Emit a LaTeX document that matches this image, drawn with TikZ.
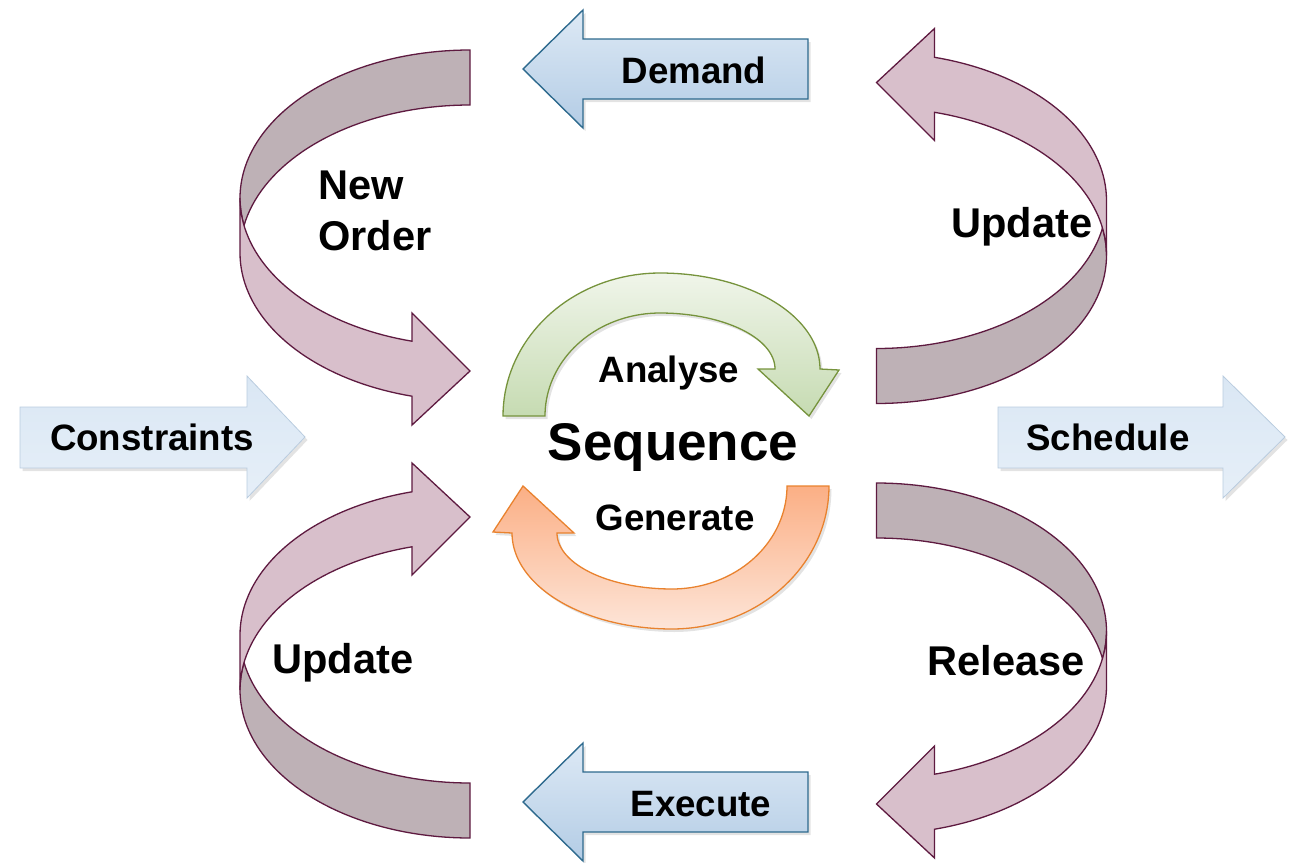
\documentclass[tikz,border=0pt]{standalone}
\usepackage{fontspec}
\setmainfont{Liberation Sans}
\usetikzlibrary{shadows}

\definecolor{plumline}{HTML}{5E1A40}
\definecolor{plumfront}{HTML}{D8BFCB}
\definecolor{plumback}{HTML}{BEB1B6}
\definecolor{blueline}{HTML}{2E6A8E}
\definecolor{bluetop}{HTML}{DDE9F5}
\definecolor{bluebot}{HTML}{B3CCE5}
\definecolor{paletop}{HTML}{DAE7F4}
\definecolor{palebot}{HTML}{E6EFF8}
\definecolor{paleline}{HTML}{B9CCDF}
\definecolor{greenline}{HTML}{76933C}
\definecolor{greentop}{HTML}{F0F5EA}
\definecolor{greenbot}{HTML}{C6DBB2}
\definecolor{orangeline}{HTML}{E9822E}
\definecolor{orangetop}{HTML}{FBAF85}
\definecolor{orangebot}{HTML}{FDE5D8}

\tikzset{
  softshadow/.style={drop shadow={shadow xshift=2.5pt, shadow yshift=-3pt, opacity=0.22}},
  bluearrow/.style={draw=blueline, line width=1.4pt, line join=miter, top color=bluetop, bottom color=bluebot, softshadow},
  palearrow/.style={draw=paleline, line width=0.8pt, top color=paletop, bottom color=palebot, softshadow},
  ribbonback/.style={draw=plumline, line width=1.3pt, fill=plumback},
  ribbonfront/.style={draw=plumline, line width=1.3pt, fill=plumfront, line join=miter},
  greenarrow/.style={draw=greenline, line width=1.3pt, top color=greentop, bottom color=greenbot, softshadow},
  orangearrow/.style={draw=orangeline, line width=1.3pt, top color=orangetop, bottom color=orangebot, softshadow},
  lblS/.style={font=\fontsize{36.7}{44}\selectfont\bfseries, inner sep=0pt, anchor=base},
  lblM/.style={font=\fontsize{41.6}{51}\selectfont\bfseries, inner sep=0pt, anchor=base},
  lblL/.style={font=\fontsize{53}{62}\selectfont\bfseries, inner sep=0pt, anchor=base},
}

% One twisted ribbon arrow: tail at the top right, bending round on the left,
% head at the bottom right pointing right.  The other three are mirror images.
\newcommand\ribbonarrow{%
  \path[ribbonback]
    plot[domain=270:169.29, samples=50] ({470+230*cos(\x)},{198+148*sin(\x)})
    -- plot[domain=190.71:270, samples=40] ({470+230*cos(\x)},{253+148*sin(\x)})
    -- cycle;
  \path[ribbonfront]
    plot[domain=180:104.6, samples=40] ({470+230*cos(\x)},{198+148*sin(\x)})
    -- (412,313) -- (470,371) -- (412,425)
    -- plot[domain=104.6:180, samples=40] ({470+230*cos(\x)},{253+148*sin(\x)})
    -- cycle;
}

\begin{document}
\begin{tikzpicture}[x=1pt, y=-1pt]
\useasboundingbox (0,0) rectangle (1292,862);

% straight block arrows
\path[bluearrow] (808,39) -- (583,39) -- (583,10) -- (523,69) -- (583,128)
  -- (583,99) -- (808,99) -- cycle;
\path[bluearrow] (808,772) -- (583,772) -- (583,743) -- (523,802) -- (583,861)
  -- (583,832) -- (808,832) -- cycle;
\path[palearrow] (20,407) -- (247,407) -- (247,376) -- (305,437) -- (247,498)
  -- (247,468) -- (20,468) -- cycle;
\path[palearrow] (998,407) -- (1223,407) -- (1223,376) -- (1285,437) -- (1223,498)
  -- (1223,468) -- (998,468) -- cycle;

% ribbon arrows in the four corners
\ribbonarrow
\begin{scope}[shift={(1346.5,453.5)}, xscale=-1, yscale=-1]
  \ribbonarrow
\end{scope}
\begin{scope}[shift={(0,888)}, yscale=-1]
  \ribbonarrow
\end{scope}
\begin{scope}[shift={(1346.5,433)}, xscale=-1]
  \ribbonarrow
\end{scope}

% central cycle
\path[greenarrow]
  plot[domain=180:270, samples=40] ({660+157*cos(\x)},{416+143*sin(\x)})
  -- plot[domain=270:360, samples=40] ({660+160*cos(\x)},{369+96*sin(\x)})
  -- (839,370) -- (809,416) -- (758,369)
  -- plot[domain=0:-90, samples=40] ({660+115*cos(\x)},{369+56*sin(\x)})
  -- plot[domain=270:180, samples=40] ({660+115*cos(\x)},{416+103*sin(\x)})
  -- cycle;
\path[orangearrow]
  plot[domain=0:90, samples=40] ({672+157*cos(\x)},{486+143*sin(\x)})
  -- plot[domain=90:180, samples=40] ({672+160*cos(\x)},{533+96*sin(\x)})
  -- (493,532) -- (523,486) -- (574,533)
  -- plot[domain=180:90, samples=40] ({672+115*cos(\x)},{533+56*sin(\x)})
  -- plot[domain=90:0, samples=40] ({672+115*cos(\x)},{486+103*sin(\x)})
  -- cycle;

% labels
\node[lblS] (demand) at (694,83) {Demand};
\node[lblS] (execute) at (701,816) {Execute};
\node[lblS] (constraints) at (152,450) {Constraints};
\node[lblS] (schedule) at (1108,450) {Schedule};
\node[lblS] (analyse) at (669,382) {Analyse};
\node[lblS] (generate) at (675,530) {Generate};
\node[lblL] (sequence) at (673,460) {Sequence};
\node[lblM, anchor=north west, align=left] (neworder) at (318,171) {New\\Order};
\node[lblM] (updatetop) at (1022,237) {Update};
\node[lblM] (updatebottom) at (343,673) {Update};
\node[lblM] (release) at (1006,675) {Release};
\end{tikzpicture}
\end{document}
